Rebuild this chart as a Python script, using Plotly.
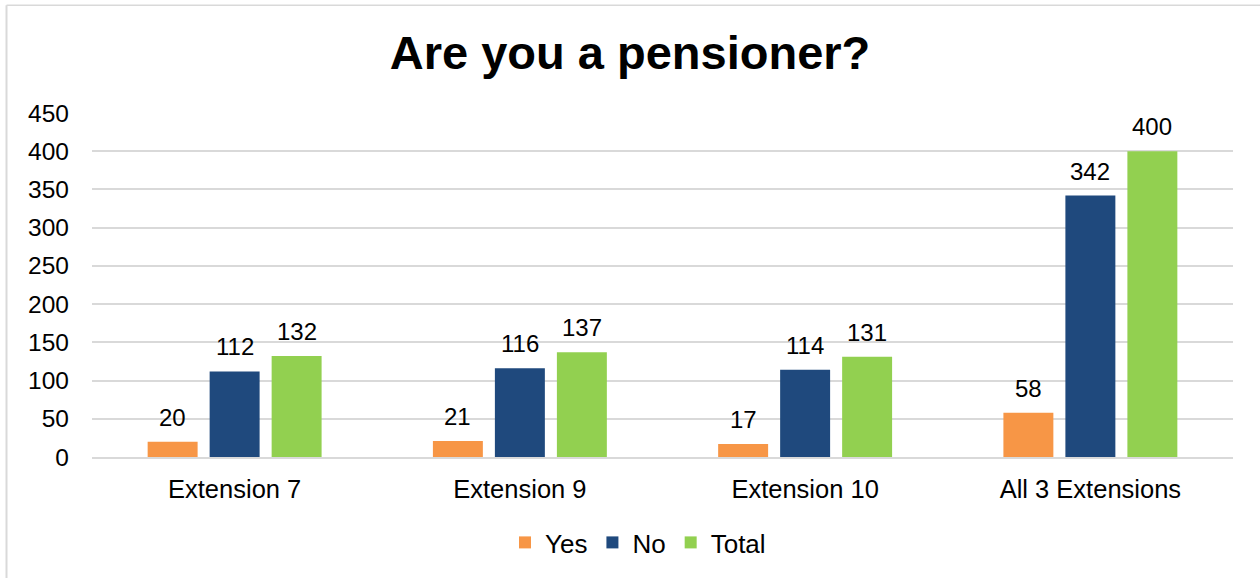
import plotly.graph_objects as go

# Survey responses per extension
categories = ["Extension 7", "Extension 9", "Extension 10", "All 3 Extensions"]
yes_values = [20, 21, 17, 58]
no_values = [112, 116, 114, 342]
total_values = [132, 137, 131, 400]
series_names = ["Yes", "No", "Total"]
series_colors = ["#F79646", "#1F497D", "#92D050"]
y_ticks = [0, 50, 100, 150, 200, 250, 300, 350, 400, 450]

W, H = 1260, 578
M_L, M_R, M_T, M_B = 92, 27, 113, 119
BARGAP = 0.348
BARGROUPGAP = 0.194
FONT = "Liberation Sans, Arial, sans-serif"

series_values = [yes_values, no_values, total_values]

fig = go.Figure()
for name, vals, color in zip(series_names, series_values, series_colors):
    fig.add_trace(go.Bar(
        name=name, x=categories, y=vals,
        marker=dict(color=color, line=dict(width=0)),
        hoverinfo="x+y+name",
    ))

# Value labels above each bar, offset to the bar's slot within its group
plot_w = W - M_L - M_R
slot_px = plot_w / len(categories) * (1 - BARGAP) / len(series_names)
annotations = []
for i, vals in enumerate(series_values):
    for cat, v in zip(categories, vals):
        annotations.append(dict(
            x=cat, y=v, xref="x", yref="y", text=str(v), showarrow=False,
            yanchor="bottom", xanchor="center",
            xshift=(i - 1) * slot_px, yshift=9,
            font=dict(family=FONT, size=24, color="#000000"),
        ))

# Light frame line along the top and left edges
plot_h = H - M_T - M_B
def px_x(p):
    return (p - M_L) / plot_w
def px_y(p):
    return (H - M_B - p) / plot_h

shapes = [
    dict(type="line", xref="paper", yref="paper",
         x0=px_x(6.5), x1=px_x(1275), y0=px_y(4.5), y1=px_y(4.5),
         line=dict(color="#D9D9D9", width=1.5)),
    dict(type="line", xref="paper", yref="paper",
         x0=px_x(6.5), x1=px_x(6.5), y0=px_y(4.5), y1=px_y(600),
         line=dict(color="#D9D9D9", width=2)),
]

fig.update_layout(
    width=W, height=H,
    margin=dict(l=M_L, r=M_R, t=M_T, b=M_B),
    paper_bgcolor="white", plot_bgcolor="white",
    barmode="group", bargap=BARGAP, bargroupgap=BARGROUPGAP,
    title=dict(text="<b>Are you a pensioner?</b>", x=0.5, xanchor="center",
               y=1 - 53 / H, yanchor="middle",
               font=dict(family=FONT, size=47, color="#000000")),
    font=dict(family=FONT, size=24, color="#000000"),
    xaxis=dict(showgrid=False, showline=True, linecolor="#D9D9D9", linewidth=1.5,
               ticks="", tickfont=dict(size=25.5, color="#000000"),
               ticklabelstandoff=9),
    yaxis=dict(range=[0, 450], tickvals=y_ticks, showgrid=True,
               gridcolor="#D9D9D9", gridwidth=1.5, zeroline=False,
               showline=False, ticks="", tickfont=dict(size=24.5, color="#000000"),
               ticklabelstandoff=22),
    legend=dict(orientation="h", x=px_x(638), xanchor="center",
                y=px_y(545), yanchor="middle",
                font=dict(size=26, color="#000000")),
    annotations=annotations,
    shapes=shapes,
    showlegend=True,
)

fig.write_html("out.html")
